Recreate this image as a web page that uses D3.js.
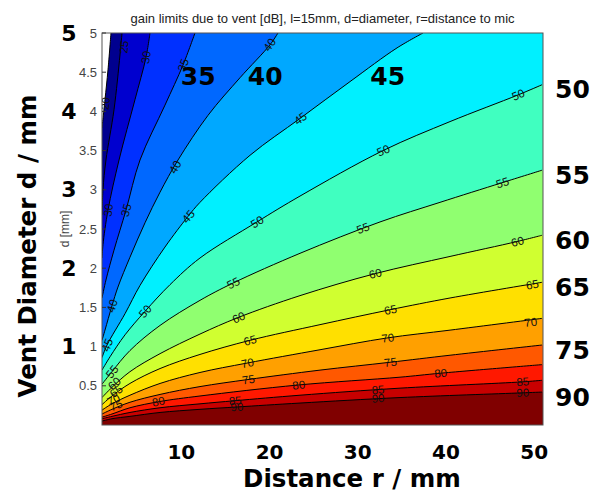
<!DOCTYPE html>
<html><head><meta charset="utf-8">
<script src="https://cdn.jsdelivr.net/npm/d3@7"></script>
<style>body{margin:0;background:#fff}</style>
</head><body><svg id="c" width="593" height="501"></svg>
<script>
const titleText = "gain limits due to vent [dB], l=15mm, d=diameter, r=distance to mic";
const levels = [20,25,30,35,40,45,50,55,60,65,70,75,80,85,90];
const bandColors = ["#00008F","#0000CF","#0030FF","#0068FF","#00A8FF","#00F0FF","#40FFC0","#90FF70","#D0FF30","#FFE000","#FFA000","#FF5800","#FF1800","#C80000","#800000"];
// contour lines, [r (mm), d (mm)], from right/top end to left end
const c20 = [[2.02,5.0],[1.68,4.53],[1.34,4.15],[1.0,3.79]];
const c25 = [[3.27,5.0],[3.04,4.72],[2.36,4.02],[1.45,3.38],[1.11,3.0],[1.0,2.68]];
const c30 = [[6.44,5.0],[5.99,4.69],[4.74,4.15],[2.93,3.38],[1.68,2.74],[1.11,2.30],[1.0,2.13]];
const c35 = [[11.54,5.0],[10.18,4.59],[8.14,4.08],[5.31,3.38],[3.72,2.74],[2.36,2.23],[1.45,1.85],[1.0,1.62]];
const c40 = [[20.95,5.0],[20.05,4.85],[16.65,4.43],[13.02,3.95],[9.62,3.38],[7.58,2.97],[5.88,2.58],[4.17,2.14],[2.81,1.76],[2.13,1.52],[1.34,1.21],[1.0,1.08]];
const c45 = [[37.40,5.0],[34.45,4.81],[29.12,4.38],[23.45,3.91],[17.78,3.44],[12.11,2.84],[10.75,2.66],[8.14,2.27],[5.31,1.78],[3.61,1.42],[1.57,1.02],[1.0,0.86]];
const c50 = [[50.89,4.34],[48.17,4.21],[40.46,3.87],[32.86,3.50],[23.45,2.92],[18.57,2.59],[12.11,2.13],[8.71,1.79],[5.88,1.45],[3.61,1.15],[1.91,0.87],[1.0,0.70]];
const c55 = [[50.89,3.25],[46.35,3.09],[39.32,2.84],[32.52,2.59],[23.45,2.19],[15.85,1.81],[12.11,1.59],[7.58,1.27],[4.17,0.95],[2.13,0.68],[1.0,0.52]];
const c60 = [[50.89,2.42],[48.05,2.34],[40.46,2.15],[31.95,1.93],[23.45,1.65],[16.42,1.37],[12.11,1.16],[7.58,0.91],[4.17,0.68],[2.13,0.48],[1.0,0.35]];
const c65 = [[50.89,1.82],[40.46,1.62],[33.65,1.47],[25.72,1.28],[17.78,1.08],[12.11,0.90],[7.58,0.72],[4.17,0.53],[2.13,0.37],[1.0,0.26]];
const c70 = [[50.89,1.36],[40.46,1.21],[33.31,1.11],[25.72,0.96],[17.44,0.79],[12.11,0.67],[7.58,0.53],[4.17,0.38],[2.13,0.27],[1.0,0.19]];
const c75 = [[50.89,1.02],[40.46,0.89],[33.65,0.80],[25.72,0.70],[17.55,0.58],[12.11,0.49],[7.58,0.39],[4.17,0.29],[2.13,0.20],[1.0,0.14]];
const c80 = [[50.89,0.77],[39.32,0.66],[34.79,0.61],[23.22,0.51],[12.11,0.37],[7.58,0.30],[4.17,0.22],[2.13,0.14],[1.0,0.10]];
const c85 = [[50.89,0.57],[48.62,0.55],[34.79,0.47],[23.45,0.38],[16.08,0.31],[12.11,0.27],[7.58,0.22],[4.17,0.16],[2.13,0.11],[1.0,0.08]];
const c90 = [[50.89,0.42],[48.62,0.41],[34.79,0.35],[23.45,0.28],[16.31,0.23],[12.11,0.20],[7.58,0.16],[4.17,0.11],[2.13,0.08],[1.0,0.05]];
const contourLines = [c20,c25,c30,c35,c40,c45,c50,c55,c60,c65,c70,c75,c80,c85,c90];
// inline contour labels: [level, r, d]
const contourLabels = [
  [20,1.40,4.10],[25,3.50,4.82],[30,6.00,4.69],[30,1.72,2.74],[35,10.20,4.59],[35,3.75,2.74],
  [40,20.00,4.85],[40,9.30,3.29],[40,2.15,1.52],[45,23.50,3.91],[45,10.80,2.66],[45,1.60,1.02],
  [50,48.20,4.21],[50,32.90,3.50],[50,18.60,2.59],[50,5.90,1.45],
  [55,46.40,3.09],[55,30.60,2.51],[55,15.90,1.81],[55,2.15,0.68],
  [60,48.10,2.34],[60,32.00,1.93],[60,16.50,1.37],[60,2.40,0.53],
  [65,49.80,1.79],[65,33.70,1.47],[65,17.80,1.08],[65,2.60,0.43],
  [70,49.60,1.31],[70,33.40,1.11],[70,17.50,0.79],[70,2.30,0.32],
  [75,33.70,0.80],[75,17.60,0.58],[75,2.60,0.25],
  [80,39.40,0.66],[80,23.30,0.51],[80,7.40,0.30],
  [85,48.70,0.55],[85,32.30,0.45],[85,16.10,0.31],
  [90,48.70,0.41],[90,32.30,0.34],[90,16.30,0.23]
];
const innerTicks = [0.5,1,1.5,2,2.5,3,3.5,4,4.5,5];
const outerXTicks = [10,20,30,40,50];
const outerYTicks = [1,2,3,4,5];
const rightLabels = [50,55,60,65,75,90];
const bandNotes = ["35","40","45"];
const bandNoteR = [11.9,19.5,33.4];
const bandNoteD = 4.44;

const svg = d3.select("#c");
const L = 102, R = 543, T = 33, B = 425;
const x = d3.scaleLinear().domain([1,51]).range([L,R]);
const y = d3.scaleLinear().domain([0,5]).range([B,T]);

svg.append("defs").append("clipPath").attr("id","pc")
  .append("rect").attr("x",L).attr("y",T).attr("width",R-L).attr("height",B-T);

const g = svg.append("g").attr("clip-path","url(#pc)");
g.append("rect").attr("x",L).attr("y",T).attr("width",R-L).attr("height",B-T).attr("fill","#fff");

const curve = d3.curveCatmullRom.alpha(0.5);
const lineGen = d3.line().x(p=>x(p[0])).y(p=>y(p[1])).curve(curve);

contourLines.forEach((pts,i)=>{
  const first = pts[0];
  const p = lineGen(pts) + "L" + x(-5) + "," + y(-1) + "L" + x(60) + "," + y(-1) +
    "L" + x(60) + "," + y(first[1]) + "L" + x(first[0]) + "," + y(first[1]) + "Z";
  g.append("path").attr("d",p).attr("fill",bandColors[i]).attr("stroke","none");
});
contourLines.forEach(pts=>{
  g.append("path").attr("d",lineGen(pts)).attr("fill","none")
    .attr("stroke","#000").attr("stroke-width",1);
});

// contour labels
contourLabels.forEach(([lv,r,d])=>{
  const pts = contourLines[levels.indexOf(lv)];
  const px = x(r), py = y(d);
  let best = 1e9, ang = 0;
  for (let k=0;k<pts.length-1;k++){
    const ax=x(pts[k][0]), ay=y(pts[k][1]), bx=x(pts[k+1][0]), by=y(pts[k+1][1]);
    const mx=(ax+bx)/2, my=(ay+by)/2;
    const dd=(mx-px)**2+(my-py)**2;
    if (dd<best){best=dd; ang=Math.atan2(by-ay,bx-ax)*180/Math.PI;}
  }
  if (ang>90) ang-=180; if (ang<-90) ang+=180;
  g.append("text").attr("transform",`translate(${px},${py}) rotate(${ang})`)
    .attr("text-anchor","middle").attr("dominant-baseline","central")
    .attr("font-family","Liberation Sans, Arial, sans-serif").attr("font-size",11.5)
    .attr("fill","#111").text(lv);
});

// frame
svg.append("rect").attr("x",L).attr("y",T).attr("width",R-L).attr("height",B-T)
  .attr("fill","none").attr("stroke","#555").attr("stroke-width",1);

// inner y axis ticks
innerTicks.forEach(v=>{
  svg.append("line").attr("x1",L).attr("x2",L+4).attr("y1",y(v)).attr("y2",y(v)).attr("stroke","#333");
  svg.append("text").attr("x",97).attr("y",y(v)).attr("text-anchor","end")
    .attr("dominant-baseline","central").attr("font-family","Liberation Sans, Arial, sans-serif")
    .attr("font-size",13).attr("fill","#444").text(v);
});
svg.append("text").attr("transform",`translate(65,${(T+B)/2}) rotate(-90)`)
  .attr("text-anchor","middle").attr("dominant-baseline","central")
  .attr("font-family","Liberation Sans, Arial, sans-serif").attr("font-size",12)
  .attr("fill","#444").text("d [mm]");

// title
svg.append("text").attr("x",(L+R)/2).attr("y",18).attr("text-anchor","middle")
  .attr("dominant-baseline","central").attr("font-family","Liberation Sans, Arial, sans-serif")
  .attr("font-size",13).attr("fill","#222").text(titleText);

const bold = "DejaVu Sans, Verdana, sans-serif";
// outer big axes
outerXTicks.forEach(v=>{
  svg.append("text").attr("x",x(v)).attr("y",452).attr("text-anchor","middle")
    .attr("dominant-baseline","central").attr("font-family",bold).attr("font-weight","bold")
    .attr("font-size",20).attr("fill","#000").text(v);
});
outerYTicks.forEach(v=>{
  svg.append("text").attr("x",69).attr("y",y(v)).attr("text-anchor","middle")
    .attr("dominant-baseline","central").attr("font-family",bold).attr("font-weight","bold")
    .attr("font-size",22).attr("fill","#000").text(v);
});
svg.append("text").attr("x",352).attr("y",478).attr("text-anchor","middle")
  .attr("dominant-baseline","central").attr("font-family",bold).attr("font-weight","bold")
  .attr("font-size",24.5).attr("fill","#000").text("Distance r / mm");
svg.append("text").attr("transform",`translate(27,246) rotate(-90)`).attr("text-anchor","middle")
  .attr("dominant-baseline","central").attr("font-family",bold).attr("font-weight","bold")
  .attr("font-size",24.5).attr("fill","#000").text("Vent Diameter d / mm");

// right-side level labels at contour right ends
rightLabels.forEach(v=>{
  const pts = contourLines[levels.indexOf(v)];
  svg.append("text").attr("x",555).attr("y",y(pts[0][1])+5).attr("text-anchor","start")
    .attr("dominant-baseline","central").attr("font-family",bold).attr("font-weight","bold")
    .attr("font-size",25).attr("fill","#000").text(v);
});
// band notes in plot
bandNotes.forEach((t,i)=>{
  svg.append("text").attr("x",x(bandNoteR[i])).attr("y",y(bandNoteD)).attr("text-anchor","middle")
    .attr("dominant-baseline","central").attr("font-family",bold).attr("font-weight","bold")
    .attr("font-size",25).attr("fill","#000").text(t);
});
</script></body></html>
